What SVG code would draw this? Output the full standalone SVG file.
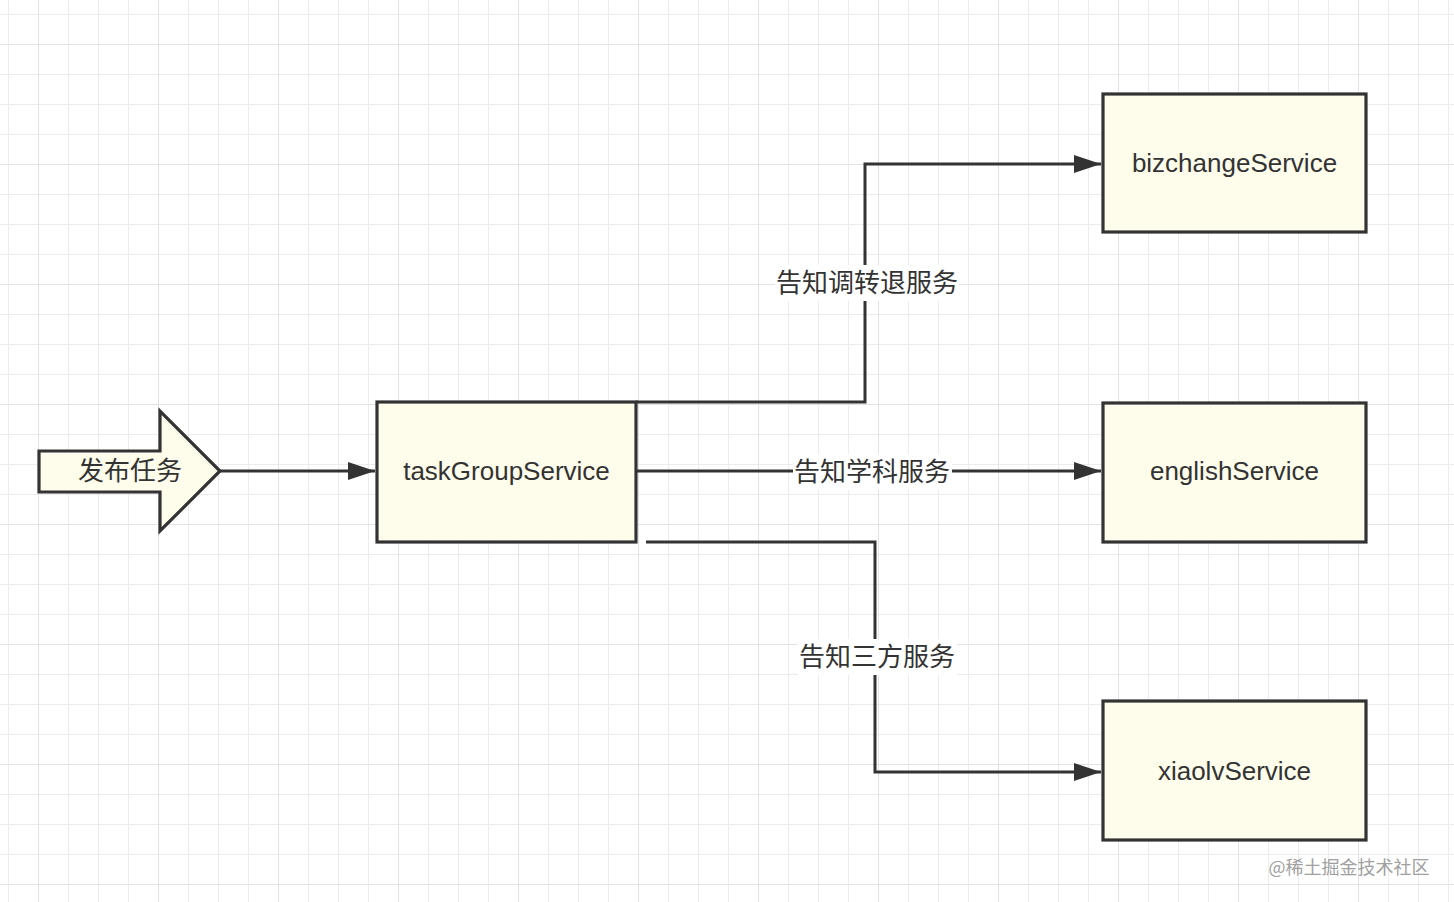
<svg xmlns="http://www.w3.org/2000/svg" width="1454" height="902" viewBox="0 0 1454 902">
<defs>
<pattern id="minor" x="8" y="14" width="30" height="30" patternUnits="userSpaceOnUse">
<path d="M0 0H30M0 0V30" fill="none" stroke="#ececec" stroke-width="2"/>
</pattern>
<pattern id="major" x="38" y="44" width="120" height="120" patternUnits="userSpaceOnUse">
<path d="M0 0H120M0 0V120" fill="none" stroke="#e2e2e2" stroke-width="2"/>
</pattern>
<marker id="arr" markerUnits="userSpaceOnUse" markerWidth="28" markerHeight="20" refX="27" refY="10" orient="auto">
<path d="M0 1L27 10L0 19Z" fill="#333"/>
</marker>
<style>
.box{fill:#fefdec;stroke:#333;stroke-width:3.2}
.lbl{font-family:"Liberation Sans",Arial,sans-serif;font-size:26px;fill:#333;text-anchor:middle}
.cjk{font-family:"Noto Sans CJK SC","Liberation Sans",sans-serif;font-size:26px;fill:#333;text-anchor:middle}
.line{fill:none;stroke:#333;stroke-width:3}
</style>
</defs>
<rect width="1454" height="902" fill="#fff"/>
<rect width="1454" height="902" fill="url(#minor)"/>
<rect width="1454" height="902" fill="url(#major)"/>

<g id="connectors">
<path class="line" d="M220 471H375" marker-end="url(#arr)"/>
<path class="line" d="M636 402H865V164H1101" marker-end="url(#arr)"/>
<path class="line" d="M636 471H1101" marker-end="url(#arr)"/>
<path class="line" d="M646 542H875V772H1101" marker-end="url(#arr)"/>
<rect x="775" y="265" width="184" height="36" fill="#fff"/>
<text class="cjk" x="867" y="292">告知调转退服务</text>
<rect x="793" y="454" width="159" height="36" fill="#fff"/>
<text class="cjk" x="872" y="481">告知学科服务</text>
<rect x="798" y="639" width="159" height="36" fill="#fff"/>
<text class="cjk" x="877" y="666">告知三方服务</text>
</g>

<g id="start">
<path class="box" d="M39 451H160V411L220 471L160 531V492H39Z"/>
<text class="cjk" x="130" y="480">发布任务</text>
</g>
<g id="taskGroupService">
<rect class="box" x="377" y="402" width="259" height="140"/>
<text class="lbl" x="506.5" y="480">taskGroupService</text>
</g>
<g id="bizchangeService">
<rect class="box" x="1103" y="94" width="263" height="138"/>
<text class="lbl" x="1234.5" y="172">bizchangeService</text>
</g>
<g id="englishService">
<rect class="box" x="1103" y="403" width="263" height="139"/>
<text class="lbl" x="1234.5" y="480">englishService</text>
</g>
<g id="xiaolvService">
<rect class="box" x="1103" y="701" width="263" height="139"/>
<text class="lbl" x="1234.5" y="780">xiaolvService</text>
</g>
<text x="1349" y="874" font-family="'Noto Sans CJK SC','Liberation Sans',sans-serif" font-size="18" fill="#a0a0a0" text-anchor="middle">@稀土掘金技术社区</text>
</svg>
